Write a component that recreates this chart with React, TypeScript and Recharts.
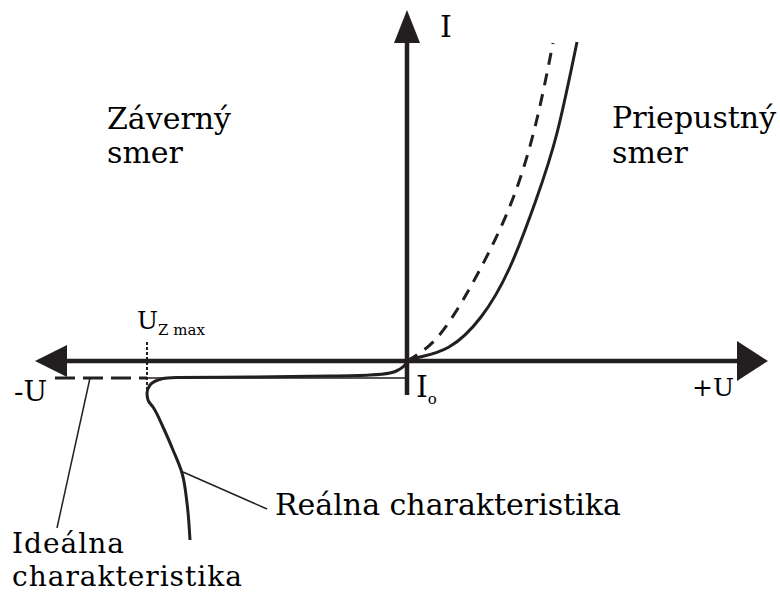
import { ComposedChart, Line, XAxis, YAxis, ReferenceLine, ReferenceDot } from "recharts";

// Units: U (x) and I (y) in arbitrary units, origin at the axes crossing.
const uDomain = [-40.7, 37.3];
const iDomain = [-23.3, 36.1];

// real characteristic, reverse branch (breakdown knee near U_Z max)
const realReverseU = [-21.7, -22.0, -22.5, -23.4, -24.4, -25.4, -25.9, -26.0, -25.7, -24.4, -23.0, -15.7, -7.7, -3.7, -1.7, -0.7, -0.2, 0];
const realReverseI = [-17.9, -14.2, -11.2, -8.9, -6.6, -4.6, -3.9, -3.2, -2.4, -1.75, -1.66, -1.6, -1.5, -1.4, -1.2, -0.8, -0.4, 0];

// real characteristic, forward branch
const realForwardU = [0, 1.3, 4.2, 7.4, 10.3, 12.9, 15.0, 17.0];
const realForwardI = [0, 0.4, 1.4, 4.4, 9.4, 16.1, 22.8, 31.9];

// ideal characteristic, forward branch
const idealForwardU = [0, 2.8, 5.6, 8.3, 10.8, 12.9, 14.6];
const idealForwardI = [0, 2.1, 6.1, 11.1, 16.8, 23.8, 31.8];

// ideal characteristic, reverse current -I0
const idealReverseU = [-35.2, -26.0];
const idealReverseI = [-1.7, -1.7];
const idealI0U = [-26.0, 0];
const idealI0I = [-1.7, -1.7];

const uzMax = -26.0;

const zip = (us: number[], is: number[]) => us.map((u, k) => ({ u, i: is[k] }));

const realReverse = zip(realReverseU, realReverseI);
const realForward = zip(realForwardU, realForwardI);
const idealForward = zip(idealForwardU, idealForwardI);
const idealReverse = zip(idealReverseU, idealReverseI);
const idealI0 = zip(idealI0U, idealI0I);

type Label = { text: string; u: number; i: number; size: number; sub?: string; subSize?: number; spacing?: number };

const labels: Label[] = [
  { text: "Záverný", u: -30.0, i: 23.2, size: 30 },
  { text: "smer", u: -30.0, i: 19.8, size: 30 },
  { text: "Priepustný", u: 20.5, i: 23.3, size: 30 },
  { text: "smer", u: 20.5, i: 19.8, size: 30 },
  { text: "I", u: 3.3, i: 32.4, size: 30 },
  { text: "+U", u: 28.5, i: -3.5, size: 25 },
  { text: "-U", u: -39.3, i: -4.0, size: 28 },
  { text: "I", u: 0.9, i: -3.6, size: 30, sub: "o", subSize: 15 },
  { text: "U", u: -27.0, i: 3.2, size: 25, sub: "Z max", subSize: 15 },
  { text: "Reálna charakteristika", u: -13.2, i: -15.4, size: 30 },
  { text: "Ideálna", u: -39.5, i: -19.2, size: 28, spacing: 1 },
  { text: "charakteristika", u: -39.5, i: -22.5, size: 28, spacing: 1 },
];

const INK = "#231f20";
const FONT = "'DejaVu Serif', serif";

const Arrow = ({ cx, cy, dir, len, half }: any) => {
  let pts = "";
  if (dir === "right") pts = `${cx},${cy} ${cx - len},${cy - half} ${cx - len},${cy + half}`;
  if (dir === "left") pts = `${cx},${cy} ${cx + len},${cy - half} ${cx + len},${cy + half}`;
  if (dir === "up") pts = `${cx},${cy} ${cx - half},${cy + len} ${cx + half},${cy + len}`;
  return <polygon points={pts} fill={INK} />;
};

const TextMark = ({ cx, cy, label }: any) => (
  <text x={cx} y={cy} fontFamily={FONT} fontSize={label.size} letterSpacing={label.spacing || 0} fill="#000">
    {label.text}
    {label.sub ? (
      <tspan fontSize={label.subSize} dy={label.size * 0.24}>
        {label.sub}
      </tspan>
    ) : null}
  </text>
);

export default function App() {
  return (
    <div style={{ position: "absolute", left: 0, top: 0, width: 780, height: 594, background: "#fff" }}>
      <ComposedChart width={780} height={594} margin={{ top: 0, right: 0, bottom: 0, left: 0 }}>
        <XAxis type="number" dataKey="u" domain={uDomain} hide allowDataOverflow />
        <YAxis type="number" dataKey="i" domain={iDomain} hide allowDataOverflow />

        {/* axes */}
        <ReferenceLine segment={[{ x: -34.0, y: 0 }, { x: 33.0, y: 0 }]} stroke={INK} strokeWidth={4.5} ifOverflow="visible" />
        <ReferenceLine segment={[{ x: 0, y: -3.4 }, { x: 0, y: 31.8 }]} stroke={INK} strokeWidth={4.5} ifOverflow="visible" />
        <ReferenceDot x={36.1} y={0} ifOverflow="visible" shape={(p: any) => <Arrow {...p} dir="right" len={31} half={20} />} />
        <ReferenceDot x={-37.2} y={0} ifOverflow="visible" shape={(p: any) => <Arrow {...p} dir="left" len={32} half={16} />} />
        <ReferenceDot x={0} y={35.1} ifOverflow="visible" shape={(p: any) => <Arrow {...p} dir="up" len={33} half={13} />} />

        {/* U_Z max marker */}
        <ReferenceLine segment={[{ x: uzMax, y: 1.9 }, { x: uzMax, y: -3.1 }]} stroke={INK} strokeWidth={2} strokeDasharray="3 2" ifOverflow="visible" />

        {/* pointer lines */}
        <ReferenceLine segment={[{ x: -31.7, y: -1.7 }, { x: -35.0, y: -16.7 }]} stroke={INK} strokeWidth={1.5} ifOverflow="visible" />
        <ReferenceLine segment={[{ x: -22.4, y: -11.1 }, { x: -14.0, y: -14.8 }]} stroke={INK} strokeWidth={1.5} ifOverflow="visible" />

        <Line data={idealI0} dataKey="i" type="linear" stroke={INK} strokeWidth={1.5} dot={false} activeDot={false} isAnimationActive={false} />
        <Line data={idealReverse} dataKey="i" type="linear" stroke={INK} strokeWidth={3} strokeDasharray="20 8" dot={false} activeDot={false} isAnimationActive={false} />
        <Line data={idealForward} dataKey="i" type="natural" stroke={INK} strokeWidth={3} strokeDasharray="12 9" dot={false} activeDot={false} isAnimationActive={false} />
        <Line data={realForward} dataKey="i" type="natural" stroke={INK} strokeWidth={3} dot={false} activeDot={false} isAnimationActive={false} />
        <Line data={realReverse} dataKey="i" type="monotoneY" stroke={INK} strokeWidth={3} dot={false} activeDot={false} isAnimationActive={false} />

        {labels.map((l, k) => (
          <ReferenceDot key={k} x={l.u} y={l.i} ifOverflow="visible" shape={(p: any) => <TextMark {...p} label={l} />} />
        ))}
      </ComposedChart>
    </div>
  );
}
